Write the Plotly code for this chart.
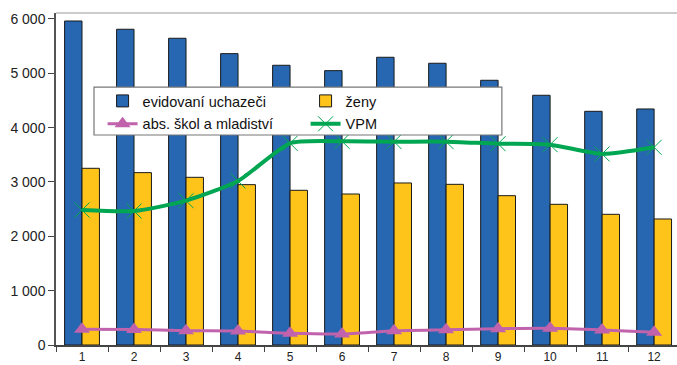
import plotly.graph_objects as go

months = ["1", "2", "3", "4", "5", "6", "7", "8", "9", "10", "11", "12"]
uchazeci = [5963, 5811, 5645, 5362, 5148, 5049, 5295, 5185, 4872, 4596, 4301, 4344]
zeny = [3252, 3172, 3086, 2951, 2847, 2779, 2982, 2957, 2748, 2589, 2405, 2319]
absolventi = [289, 285, 263, 258, 215, 202, 263, 282, 300, 307, 276, 235]
vpm = [2485, 2466, 2656, 3018, 3712, 3749, 3742, 3742, 3705, 3687, 3516, 3638]
ytick_vals = [0, 1000, 2000, 3000, 4000, 5000, 6000]
ytick_text = ["0", "1 000", "2 000", "3 000", "4 000", "5 000", "6 000"]

fig = go.Figure()
fig.add_trace(go.Bar(x=months, y=uchazeci, name="evidovaní uchazeči",
                     marker=dict(color="#2767B1", line=dict(color="#1a1a1a", width=1)),
                     legend="legend"))
fig.add_trace(go.Bar(x=months, y=zeny, name="ženy",
                     marker=dict(color="#FFC41A", line=dict(color="#1a1a1a", width=1)),
                     legend="legend"))
fig.add_trace(go.Scatter(x=months, y=absolventi, name="abs. škol a mladiství",
                         mode="lines+markers",
                         line=dict(color="#C063AC", width=3, shape="spline", smoothing=0.6),
                         marker=dict(symbol="triangle-up", size=14, color="#C063AC"),
                         legend="legend2"))
fig.add_trace(go.Scatter(x=months, y=vpm, name="VPM",
                         mode="lines+markers",
                         line=dict(color="#00A651", width=4, shape="spline", smoothing=0.6),
                         marker=dict(symbol="x-thin", size=15, color="#00A651",
                                     line=dict(color="#00A651", width=1)),
                         legend="legend2"))

font_family = "Liberation Sans, Arial, sans-serif"
leg_common = dict(orientation="h", xanchor="left", yanchor="middle", entrywidth=158,
                  bgcolor="rgba(0,0,0,0)", borderwidth=0, itemclick=False,
                  font=dict(family=font_family, size=14.5, color="#111"), tracegroupgap=0)

fig.update_layout(
    width=677, height=365,
    margin=dict(l=56, r=0, t=13, b=20),
    paper_bgcolor="white", plot_bgcolor="white",
    barmode="group", bargap=0.33, bargroupgap=0,
    font=dict(family=font_family, color="#222"),
    showlegend=True,
    legend=dict(x=0.075, y=0.735, **leg_common),
    legend2=dict(x=0.075, y=0.666, **leg_common),
    xaxis=dict(type="category", range=[-0.5, 11.44], tickson="boundaries",
               ticks="outside", ticklen=5, tickcolor="#444", showline=True,
               linecolor="#444", linewidth=1.5, showgrid=False,
               tickfont=dict(size=12, color="#222")),
    yaxis=dict(range=[0, 6110], tickvals=ytick_vals, ticktext=ytick_text,
               ticks="outside", ticklen=6, tickcolor="#444", showline=True,
               linecolor="#555", linewidth=1.5, showgrid=False, zeroline=False,
               tickfont=dict(size=14, color="#222")),
    shapes=[
        dict(type="line", xref="paper", yref="paper", x0=0, x1=1, y0=1, y1=1,
             line=dict(color="#BBBBBB", width=1.5)),
        dict(type="rect", xref="paper", yref="paper", x0=0.0612, x1=0.718,
             y0=0.6325, y1=0.777, layer="above", fillcolor="white",
             line=dict(color="#777777", width=1.2)),
    ],
)

fig.write_html("out.html", config={"displayModeBar": False},
               post_script="document.body.style.margin='0';document.body.style.padding='0';")
